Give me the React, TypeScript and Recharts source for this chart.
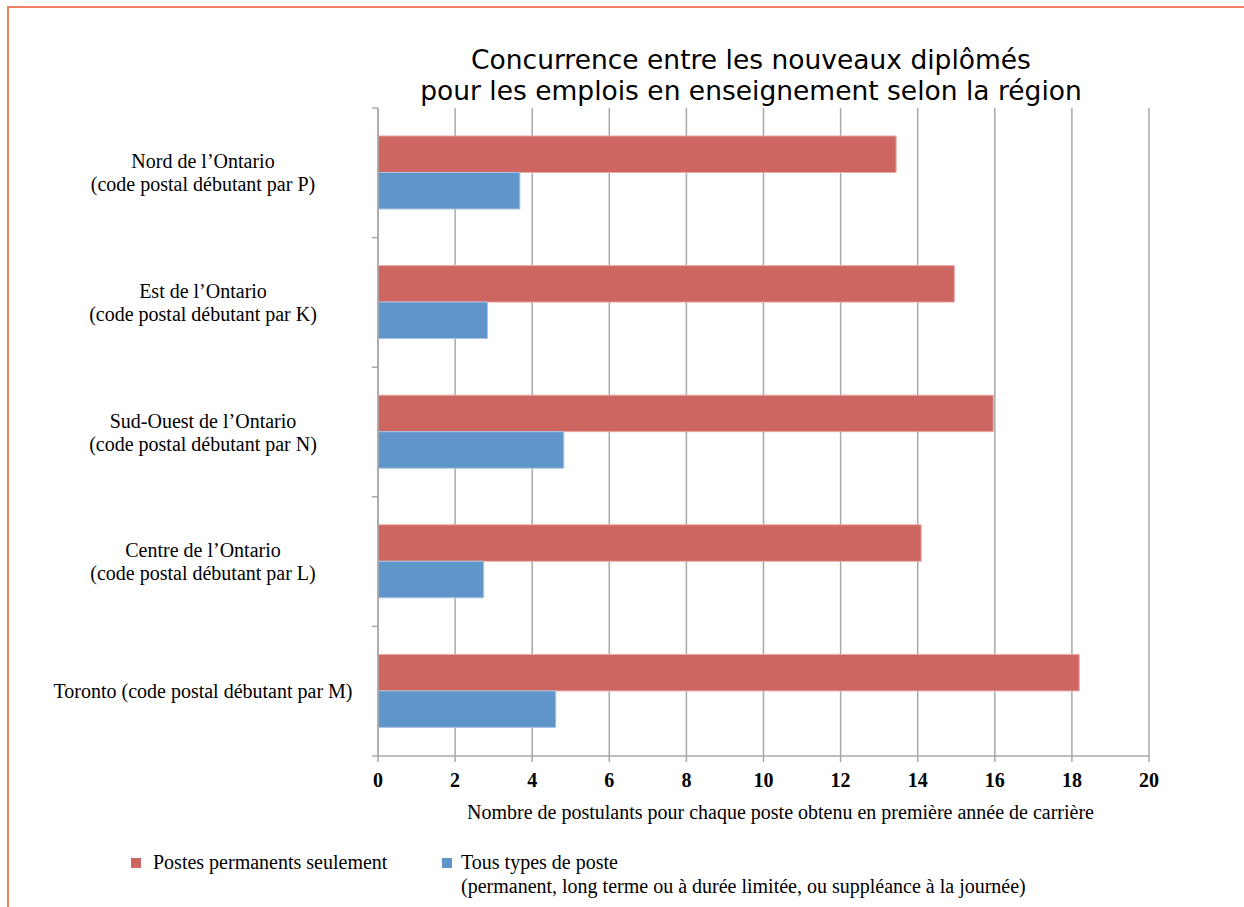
import React from 'react';
import { BarChart, Bar, XAxis, YAxis, CartesianGrid } from 'recharts';

const regionKeys = ['P', 'K', 'N', 'L', 'M'];
const regionLabels: string[][] = [
  ['Nord de l’Ontario', '(code postal débutant par P)'],
  ['Est de l’Ontario', '(code postal débutant par K)'],
  ['Sud-Ouest de l’Ontario', '(code postal débutant par N)'],
  ['Centre de l’Ontario', '(code postal débutant par L)'],
  ['Toronto (code postal débutant par M)'],
];
const permanentOnly = [13.44, 14.95, 15.96, 14.09, 18.19];
const allTypes = [3.68, 2.84, 4.82, 2.74, 4.61];
const xTicks = [0, 2, 4, 6, 8, 10, 12, 14, 16, 18, 20];

const titleLines = ['Concurrence entre les nouveaux diplômés', 'pour les emplois en enseignement selon la région'];
const xAxisTitle = 'Nombre de postulants pour chaque poste obtenu en première année de carrière';
const seriesNames = ['Postes permanents seulement', 'Tous types de poste'];
const seriesNote = '(permanent, long terme ou à durée limitée, ou suppléance à la journée)';

const data = regionKeys.map((k, i) => ({
  key: k,
  permanent: permanentOnly[i],
  all: allTypes[i],
}));

const W = 1244;
const H = 907;
const X_AXIS_H = 60;
const M = { top: 108, right: 95, left: 8, bottom: 91 };
const PLOT_H = H - M.top - M.bottom - X_AXIS_H;
const BAND_HALF = PLOT_H / (2 * regionKeys.length);
const RED = '#CD6660';
const BLUE = '#6095C9';
const GRID = '#A8A8A8';
const SERIF = '"Liberation Serif", "Times New Roman", serif';
const FS = 20;

const YTick = (props: any) => {
  const { x, y, index } = props;
  const lines = regionLabels[index] || [];
  const cx = x - 175;
  const lh = 23;
  const start = y - ((lines.length - 1) * lh) / 2;
  return (
    <g>
      <line x1={x - 6} x2={x} y1={y - BAND_HALF} y2={y - BAND_HALF} stroke={GRID} strokeWidth={1.5} />
      {index === regionKeys.length - 1 && (
        <line x1={x - 6} x2={x} y1={y + BAND_HALF} y2={y + BAND_HALF} stroke={GRID} strokeWidth={1.5} />
      )}
      {lines.map((l, i) => (
        <text
          key={i}
          x={cx}
          y={start + i * lh}
          textAnchor="middle"
          dominantBaseline="central"
          fontFamily={SERIF}
          fontSize={FS}
          fill="#000"
        >
          {l}
        </text>
      ))}
    </g>
  );
};

const XTick = (props: any) => {
  const { x, y, payload } = props;
  return (
    <text
      x={x}
      y={y + 16}
      textAnchor="middle"
      dominantBaseline="central"
      fontFamily={SERIF}
      fontWeight="bold"
      fontSize={FS}
      fill="#000"
    >
      {payload.value}
    </text>
  );
};

const XLabel = (props: any) => {
  const { viewBox } = props;
  const cx = viewBox.x + viewBox.width / 2 + 17;
  const cy = viewBox.y + 56;
  return (
    <text x={cx} y={cy} textAnchor="middle" dominantBaseline="central" fontFamily={SERIF} fontSize={FS} fill="#000">
      {xAxisTitle}
    </text>
  );
};

export default function App() {
  return (
    <div style={{ position: 'absolute', left: 0, top: 0, width: W, height: H, background: '#fff', overflow: 'hidden' }}>
      <div
        style={{
          position: 'absolute',
          left: 7,
          top: 6,
          right: 0,
          bottom: -10,
          borderTop: '2px solid #EE7F62',
          borderLeft: '2px solid #EE7F62',
        }}
      />
      <div
        style={{
          position: 'absolute',
          left: 0,
          width: 1502,
          top: 44,
          textAlign: 'center',
          fontFamily: '"DejaVu Sans", Verdana, sans-serif',
          fontSize: 26.5,
          lineHeight: '31px',
          color: '#000',
        }}
      >
        {titleLines.map((t, i) => (
          <div key={i}>{t}</div>
        ))}
      </div>
      <div style={{ position: 'absolute', left: 0, top: 0 }}>
        <BarChart
          width={W}
          height={H}
          data={data}
          layout="vertical"
          margin={M}
          barGap={0}
          barSize={36.5}
        >
          <CartesianGrid horizontal={false} vertical stroke={GRID} strokeWidth={1.5} />
          <XAxis
            type="number"
            domain={[0, 20]}
            ticks={xTicks}
            interval={0}
            tick={<XTick />}
            tickSize={6}
            tickMargin={2}
            tickLine={{ stroke: GRID, strokeWidth: 1.5 }}
            axisLine={{ stroke: GRID, strokeWidth: 1.5 }}
            height={X_AXIS_H}
            label={<XLabel />}
          />
          <YAxis
            type="category"
            dataKey="key"
            width={370}
            tick={<YTick />}
            tickLine={false}
            tickSize={0}
            tickMargin={0}
            interval={0}
            axisLine={{ stroke: GRID, strokeWidth: 1.5 }}
          />
          <Bar dataKey="permanent" fill={RED} stroke="#E9A9A5" strokeWidth={1} isAnimationActive={false} />
          <Bar dataKey="all" fill={BLUE} stroke="#A8C4E3" strokeWidth={1} isAnimationActive={false} />
        </BarChart>
      </div>
      <div
        style={{
          position: 'absolute',
          left: 131,
          top: 850,
          fontFamily: SERIF,
          fontSize: FS,
          lineHeight: '24px',
          color: '#000',
          display: 'flex',
        }}
      >
        <div style={{ display: 'flex', alignItems: 'flex-start', width: 311 }}>
          <div style={{ width: 10, height: 10, background: RED, marginTop: 8, marginRight: 12 }} />
          <div>{seriesNames[0]}</div>
        </div>
        <div style={{ display: 'flex', alignItems: 'flex-start' }}>
          <div style={{ width: 10, height: 10, background: BLUE, marginTop: 8, marginRight: 9 }} />
          <div>
            <div>{seriesNames[1]}</div>
            <div>{seriesNote}</div>
          </div>
        </div>
      </div>
    </div>
  );
}
